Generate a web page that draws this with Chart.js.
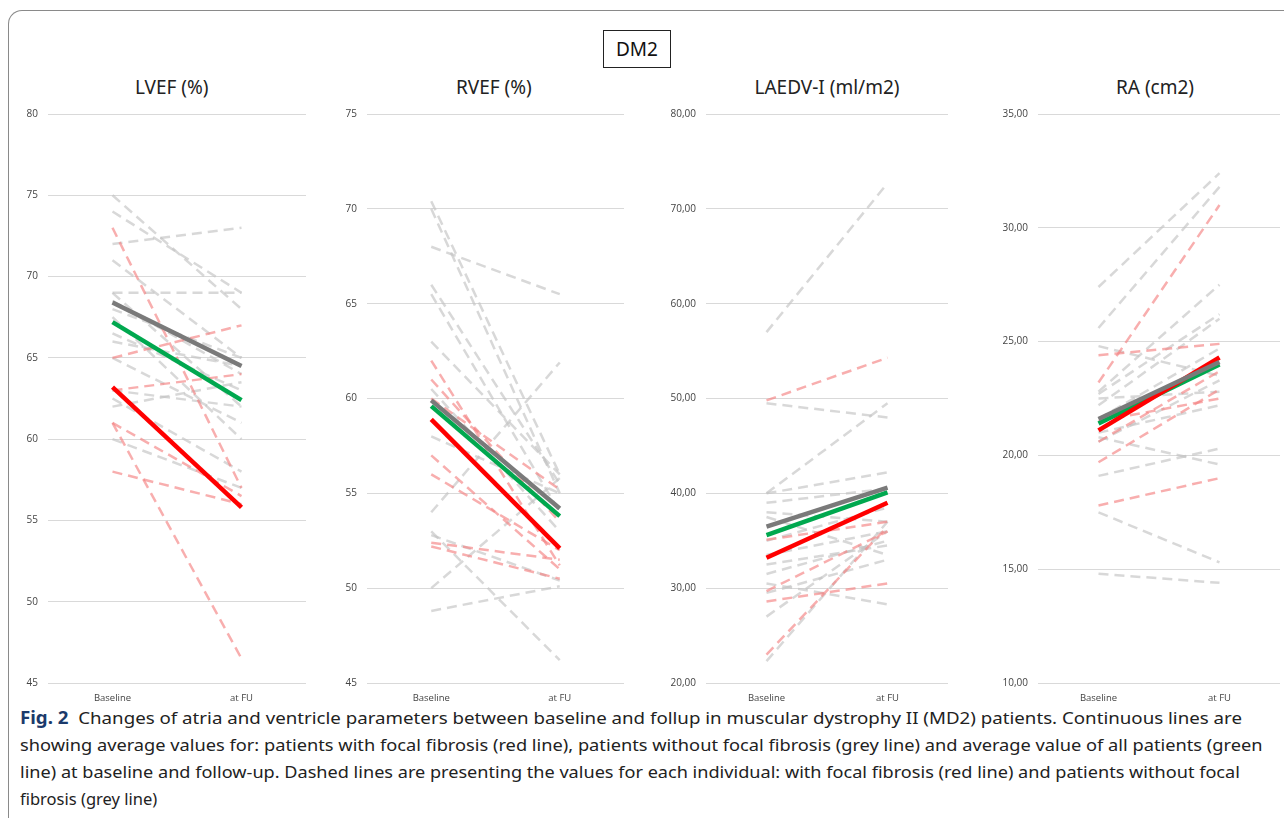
<!DOCTYPE html>
<html>
<head>
<meta charset="utf-8">
<script src="https://cdn.jsdelivr.net/npm/chart.js@4.4.1/dist/chart.umd.min.js"></script>
<style>
  body { margin: 0; background: #fff; width: 1284px; height: 818px; overflow: hidden; position: relative; font-family: "Noto Sans", sans-serif; }
  .frame { position: absolute; left: 8px; top: 10px; width: 1290px; height: 820px; border: 1.5px solid #8a8a8a; border-radius: 14px 0 0 0; border-right: none; border-bottom: none; }
  .box { position: absolute; left: 603px; top: 30px; width: 66px; height: 36px; border: 1.5px solid #222; font-size: 19px; line-height: 36px; text-align: center; color: #111; }
  .title { position: absolute; top: 74px; font-size: 19px; color: #222; white-space: nowrap; transform-origin: center; }
  .chart { position: absolute; }
  .cap { position: absolute; left: 20px; font-size: 17px; color: #222; white-space: nowrap; transform-origin: left center; }
  .cap b { color: #1b3a6b; }
</style>
</head>
<body>
<div class="frame"></div>
<div class="box">DM2</div>

<div class="title" id="t1" style="left:172px">LVEF (%)</div>
<div class="title" id="t2" style="left:494px">RVEF (%)</div>
<div class="title" id="t3" style="left:827px">LAEDV-I (ml/m2)</div>
<div class="title" id="t4" style="left:1155px">RA (cm2)</div>

<canvas class="chart" id="c1"></canvas>
<canvas class="chart" id="c2"></canvas>
<canvas class="chart" id="c3"></canvas>
<canvas class="chart" id="c4"></canvas>

<div class="cap" style="top:706px" data-w="1222"><b>Fig. 2</b>&nbsp; Changes of atria and ventricle parameters between baseline and follup in muscular dystrophy II (MD2) patients. Continuous lines are</div>
<div class="cap" style="top:733px" data-w="1243">showing average values for: patients with focal fibrosis (red line), patients without focal fibrosis (grey line) and average value of all patients (green</div>
<div class="cap" style="top:760px" data-w="1220">line) at baseline and follow-up. Dashed lines are presenting the values for each individual: with focal fibrosis (red line) and patients without focal</div>
<div class="cap" style="top:787px" data-w="137">fibrosis (grey line)</div>

<script>
const categories = ['Baseline', 'at FU'];

// LVEF (%)
const lvefMeans = { grey: [68.4, 64.5], green: [67.2, 62.4], red: [63.2, 55.8] };
const lvefGrey = [[75, 68], [74, 69], [72, 73], [71, 65], [69, 69], [69, 62], [68.5, 64], [68, 65],
  [67.5, 60], [66.5, 63], [66, 64.5], [65, 61], [63, 62], [62, 63.5], [60, 57], [62.5, 58]];
const lvefRed = [[73, 57], [65, 67], [63, 64], [61, 46.5], [61, 56.5], [58, 56]];

// RVEF (%)
const rvefMeans = { grey: [59.9, 54.2], green: [59.6, 53.8], red: [58.9, 52.1] };
const rvefGrey = [[70.4, 56], [70, 55], [68, 65.5], [66, 55.5], [65.5, 54], [63, 56], [60.5, 53],
  [58, 55], [54, 61.9], [53, 46.2], [52.8, 50.4], [50, 55.8], [48.8, 50.1]];
const rvefRed = [[62, 51.2], [61, 53.5], [60, 55.2], [57, 51], [56, 52], [52.4, 51.5], [52.2, 50.5]];

// LAEDV-I (ml/m2)
const laedvMeans = { grey: [36.5, 40.6], green: [35.6, 40.1], red: [33.2, 39.0] };
const laedvGrey = [[57, 72.7], [49.5, 48], [40, 49.5], [40, 42.2], [39, 40.5], [38, 37], [37.5, 33.5],
  [35, 38.5], [33.5, 36], [32.5, 34.5], [31.5, 35], [30.5, 28.3], [29.5, 33], [27, 36], [22.3, 37]];
const laedvRed = [[49.8, 54.3], [35.1, 37], [29.7, 36], [28.6, 30.5], [23, 36.5]];

// RA (cm2)
const raMeans = { grey: [21.6, 24.1], green: [21.4, 24.0], red: [21.1, 24.3] };
const raGrey = [[27.4, 32.4], [25.6, 31.8], [24.8, 23.5], [22.8, 27.5], [22.7, 26.2], [22.2, 26],
  [21.6, 24.7], [20.8, 19.6], [20.6, 23.3], [21, 22.2], [19.1, 20.3], [17.5, 15.3], [14.8, 14.4], [22.5, 22.8]];
const raRed = [[24.4, 24.9], [23.2, 31], [20.6, 23.7], [19.7, 22.9], [17.8, 19], [21.5, 22.5]];

function buildDatasets(means, grey, red) {
  const ds = [];
  // first datasets are drawn on top
  ds.push({ data: means.grey, borderColor: '#7a7a7a', borderWidth: 4.5 });
  ds.push({ data: means.red, borderColor: '#ff0000', borderWidth: 4.5 });
  ds.push({ data: means.green, borderColor: '#00a84f', borderWidth: 4.5 });
  red.forEach(p => ds.push({ data: p, borderColor: 'rgba(245,130,130,0.65)', borderWidth: 2.5, borderDash: [10, 6] }));
  grey.forEach(p => ds.push({ data: p, borderColor: 'rgba(195,195,195,0.65)', borderWidth: 2.5, borderDash: [10, 6] }));
  ds.forEach(d => { d.pointRadius = 0; d.fill = false; d.tension = 0; });
  return ds;
}

function makeChart(id, box, yMin, yMax, step, decimals, means, grey, red) {
  const cv = document.getElementById(id);
  cv.style.left = box.left + 'px';
  cv.style.top = box.top + 'px';
  cv.width = box.w; cv.height = box.h;
  new Chart(cv, {
    type: 'line',
    data: { labels: categories, datasets: buildDatasets(means, grey, red) },
    options: {
      responsive: false,
      animation: false,
      layout: { padding: { top: 10, right: box.pr, left: 0, bottom: 0 } },
      plugins: { legend: { display: false }, tooltip: { enabled: false } },
      scales: {
        x: {
          offset: true,
          grid: { display: false },
          border: { display: false },
          ticks: { color: '#444', font: { family: 'Open Sans', size: 9.5 }, padding: 2 },
          afterFit: s => { s.height = 22; }
        },
        y: {
          min: yMin, max: yMax,
          grid: { color: '#d9d9d9', lineWidth: 1, drawTicks: false },
          border: { display: false },
          ticks: {
            stepSize: step, color: '#444', padding: 10,
            font: { family: 'Open Sans', size: 10 },
            callback: v => decimals ? v.toFixed(2).replace('.', ',') : String(v)
          },
          afterFit: s => { s.width = box.yw; }
        }
      }
    }
  });
}

makeChart('c1', { left: 20, top: 98, w: 290, h: 607, pr: 4, yw: 28 }, 45, 80, 5, false, lvefMeans, lvefGrey, lvefRed);
makeChart('c2', { left: 339, top: 98, w: 290, h: 607, pr: 5, yw: 28 }, 45, 75, 5, false, rvefMeans, rvefGrey, rvefRed);
makeChart('c3', { left: 664, top: 98, w: 290, h: 607, pr: 6, yw: 42 }, 20, 80, 10, true, laedvMeans, laedvGrey, laedvRed);
makeChart('c4', { left: 996, top: 98, w: 288, h: 607, pr: 4, yw: 42 }, 10, 35, 5, true, raMeans, raGrey, raRed);

// center the panel titles and fit caption lines to the widths they take in the figure
document.querySelectorAll('.title').forEach(t => {
  const w = t.offsetWidth;
  t.style.left = (parseFloat(t.style.left) - w / 2) + 'px';
});
document.querySelectorAll('.cap').forEach(c => {
  const target = parseFloat(c.dataset.w);
  c.style.transform = 'scaleX(' + (target / c.offsetWidth) + ')';
});
</script>
</body>
</html>
